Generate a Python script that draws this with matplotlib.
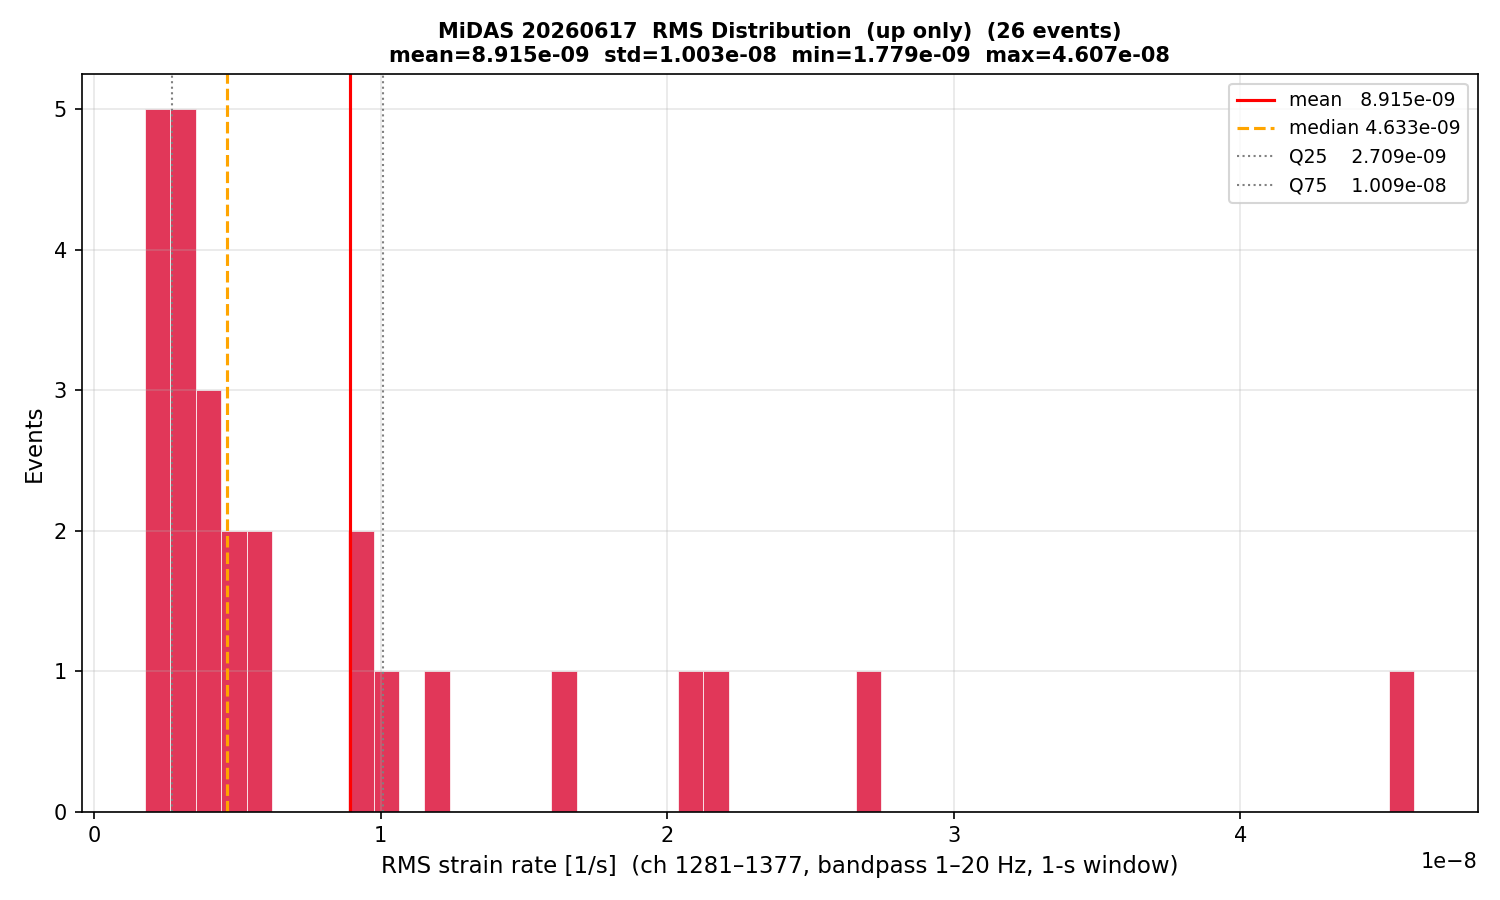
import numpy as np
import matplotlib
matplotlib.use('Agg')
import matplotlib.pyplot as plt

# RMS per event, units of 1e-8 1/s
rms_e8 = [0.1779, 0.20, 0.22, 0.24, 0.26,
          0.27, 0.28, 0.30, 0.32, 0.34,
          0.37, 0.40, 0.43,
          0.49, 0.51,
          0.55, 0.60,
          0.90, 0.97,
          1.022,
          1.20,
          1.64,
          2.08,
          2.17,
          2.70,
          4.607]
rms = np.array(rms_e8) * 1e-8

# summary numbers printed in the title / legend
stat_mean = 8.915e-09
stat_median = 4.633e-09
stat_q25 = 2.709e-09
stat_q75 = 1.009e-08
stat_std = 1.003e-08
stat_min = 1.779e-09
stat_max = 4.607e-08
n_bins = 50

fig, ax = plt.subplots(figsize=(10, 6), dpi=150)

ax.hist(rms, bins=n_bins, range=(stat_min, stat_max), color='crimson', alpha=0.85,
        edgecolor='white', linewidth=0.4)

ax.axvline(stat_mean, color='red', lw=1.5, label=f'mean   {stat_mean:.3e}')
ax.axvline(stat_median, color='orange', lw=1.5, ls='--', label=f'median {stat_median:.3e}')
ax.axvline(stat_q25, color='gray', lw=1, ls=':', label=f'Q25    {stat_q25:.3e}')
ax.axvline(stat_q75, color='gray', lw=1, ls=':', label=f'Q75    {stat_q75:.3e}')

ax.set_xlabel('RMS strain rate [1/s]  (ch 1281\u20131377, bandpass 1\u201320 Hz, 1-s window)', fontsize=11)
ax.set_ylabel('Events', fontsize=11)
ax.set_title(f'MiDAS 20260617  RMS Distribution  (up only)  ({len(rms)} events)\n'
             f'mean={stat_mean:.3e}  std={stat_std:.3e}  min={stat_min:.3e}  max={stat_max:.3e}',
             fontsize=10, fontweight='bold')
ax.legend(fontsize=9, loc='upper right')
ax.grid(alpha=0.3)

fig.tight_layout()
fig.savefig('out.png', dpi=150)
